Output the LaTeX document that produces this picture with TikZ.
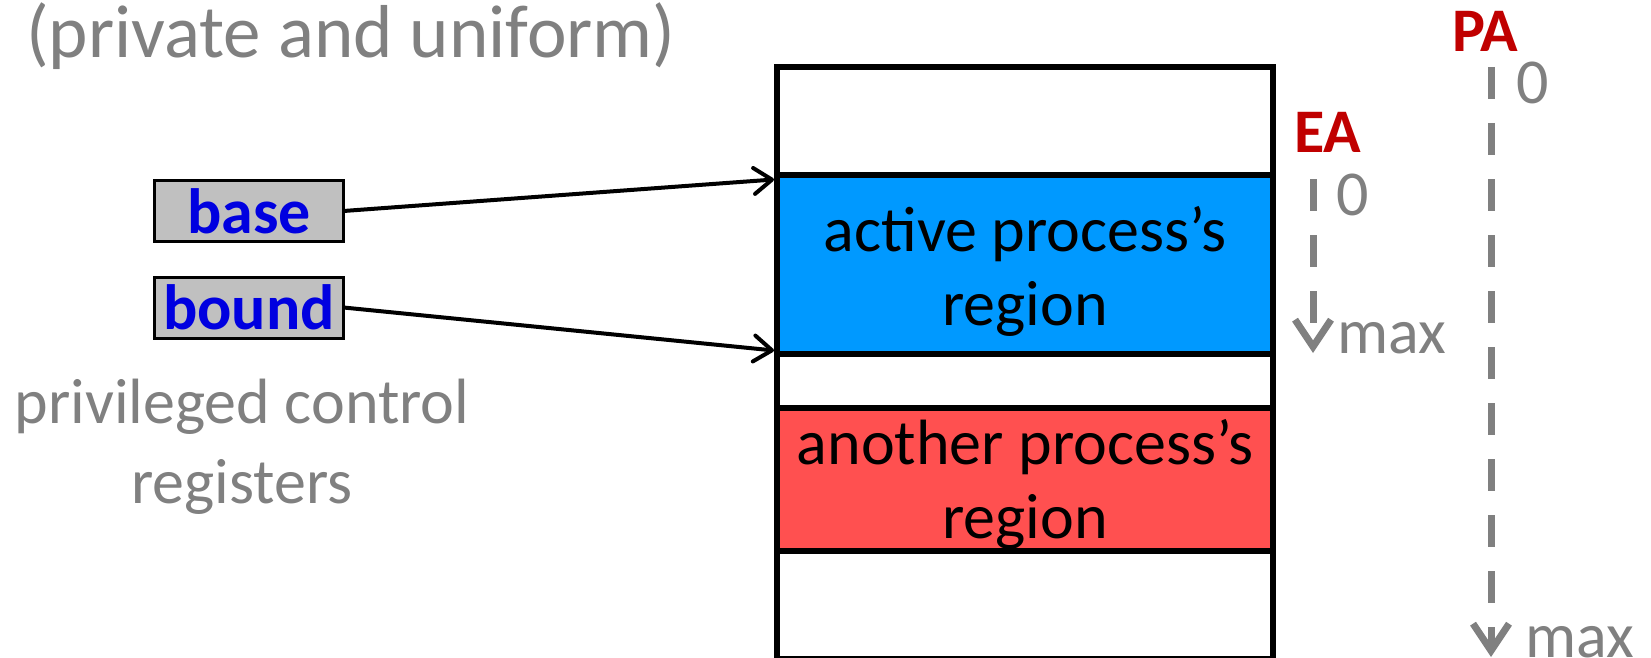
\documentclass[tikz,border=0pt]{standalone}
\usepackage{fontspec}
\setmainfont{Carlito}
\usetikzlibrary{arrows.meta,calc}
\definecolor{labelgray}{RGB}{128,128,128}
\definecolor{regblue}{RGB}{0,0,224}
\definecolor{axisred}{RGB}{192,0,0}
\definecolor{activefill}{RGB}{0,153,255}
\definecolor{otherfill}{RGB}{255,80,80}
\definecolor{regfill}{RGB}{192,192,192}
\begin{document}
\begin{tikzpicture}[x=1pt,y=-1pt,
  band/.style={draw=black, line width=6pt, minimum width=496pt, inner sep=0pt, outer sep=0pt},
  reg/.style={draw=black, line width=3pt, fill=regfill, minimum width=189pt, minimum height=61pt,
    inner sep=0pt, outer sep=0pt, font=\fontsize{64}{76}\selectfont\bfseries, text=regblue},
  txt/.style={inner sep=0pt, outer sep=0pt, font=\fontsize{64}{76}\selectfont},
  graytxt/.style={txt, text=labelgray},
  axislbl/.style={inner sep=0pt, outer sep=0pt, font=\fontsize{62}{74}\selectfont\bfseries, text=axisred},
  conn/.style={line width=4pt, -{Straight Barb[length=18pt,width=26pt,round]}},
  axis/.style={draw=labelgray, line width=7pt, dash pattern=on 32pt off 24pt,
    -{Straight Barb[length=27pt,width=36pt]}},
]
\useasboundingbox (0,0) rectangle (1651,658);

% memory layout, top to bottom
\node[band, minimum height=107.5pt] (mtop) at (1025,120.75) {};
\node[band, fill=activefill, minimum height=179pt] (active) at (1025,264) {};
\node[band, minimum height=54.5pt] (mgap) at (1025,380.75) {};
\node[band, fill=otherfill, minimum height=143pt] (another) at (1025,479.5) {};
\node[band, minimum height=108pt] (mbot) at (1025,605) {};

\node[txt, anchor=base] (activeA) at (1025,251.5) {active process’s};
\node[txt, anchor=base] (activeB) at (1025,325) {region};
\node[txt, anchor=base] (anotherA) at (1025,464) {another process’s};
\node[txt, anchor=base] (anotherB) at (1025,538) {region};

% control registers
\node[reg] (base) at (249,211) {base};
\node[reg] (bound) at (249,307.5) {bound};
\draw[conn] (base.east) -- ($(active.north west)+(-3,5)$);
\draw[conn] (bound.east) -- ($(active.south west)+(-3,-3)$);

\node[graytxt, anchor=base] (privA) at (242,423) {privileged control};
\node[graytxt, anchor=base] (privB) at (242,503) {registers};

\node[graytxt, anchor=base west, font=\fontsize{75}{90}\selectfont] (title) at (26,58) {(private and uniform)};

% effective address axis
\coordinate (eaTop) at (1313,179);
\coordinate (eaEnd) at (1313,353);
\draw[axis] (eaTop) -- (eaEnd);
\node[axislbl, anchor=base west] (ea) at (1294,153) {EA};
\node[graytxt, anchor=base west] (ea0) at (1336,215) {0};
\node[graytxt, anchor=base west] (eamax) at (1337,353) {max};

% physical address axis
\coordinate (paTop) at (1491,67);
\coordinate (paEnd) at (1491,657);
\draw[axis] (paTop) -- (paEnd);
\node[axislbl, anchor=base west] (pa) at (1452,52) {PA};
\node[graytxt, anchor=base west] (pa0) at (1516,104) {0};
\node[graytxt, anchor=base west] (pamax) at (1525,657) {max};
\end{tikzpicture}
\end{document}
